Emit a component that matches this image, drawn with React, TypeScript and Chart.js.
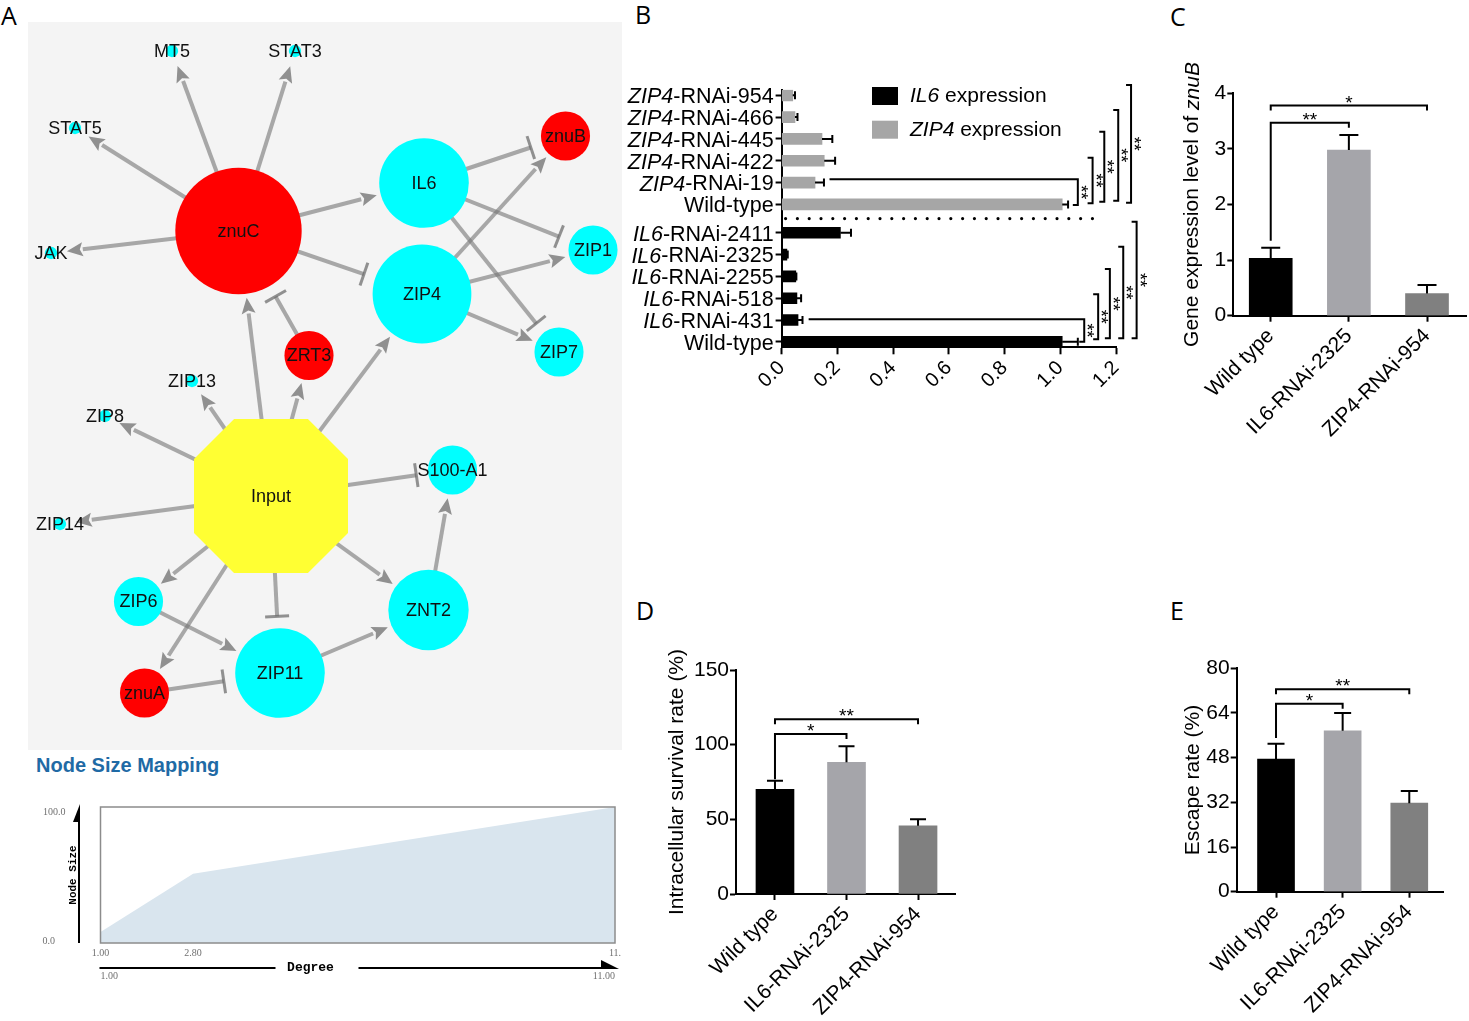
import React, { useEffect, useRef } from 'react';
import { Chart, registerables } from 'chart.js';

Chart.register(...registerables);

const SANS = '"Liberation Sans", Arial, Helvetica, sans-serif';
const MONO = '"Liberation Mono", "DejaVu Sans Mono", monospace';
const SERIF = '"Liberation Serif", "DejaVu Serif", serif';
const LETTER = '"Open Sans", "Noto Sans", sans-serif';

// ================= Panel A: interaction network =================
const nodeNames = ['MT5', 'STAT3', 'STAT5', 'JAK', 'znuC', 'IL6', 'znuB', 'ZIP1', 'ZIP4', 'ZIP7', 'ZRT3', 'ZIP13', 'ZIP8', 'Input', 'S100-A1', 'ZIP14', 'ZIP6', 'ZNT2', 'ZIP11', 'znuA'];
const nodeX = [144, 267, 47, 23, 210.5, 396, 537.5, 565, 394, 531, 281, 164, 77, 243, 424.5, 32, 110.5, 400.5, 252, 116.5];
const nodeY = [29, 29, 106, 231, 209, 161, 114, 228, 272, 330, 333.5, 359, 394, 474, 448, 502, 579.5, 588, 651, 671];
const nodeClass = ['host', 'host', 'host', 'host', 'pathogen', 'host', 'pathogen', 'host', 'host', 'host', 'pathogen', 'host', 'host', 'input', 'host', 'host', 'host', 'host', 'host', 'pathogen'];
const edgeSource = ['znuC', 'znuC', 'znuC', 'znuC', 'znuC', 'znuC', 'IL6', 'IL6', 'IL6', 'ZIP4', 'ZIP4', 'ZIP4', 'ZRT3', 'Input', 'Input', 'Input', 'Input', 'Input', 'Input', 'Input', 'Input', 'Input', 'Input', 'Input', 'ZIP6', 'ZIP11', 'ZNT2', 'znuA'];
const edgeTarget = ['MT5', 'STAT3', 'STAT5', 'JAK', 'IL6', 'ZIP4', 'znuB', 'ZIP1', 'ZIP7', 'znuB', 'ZIP1', 'ZIP7', 'znuC', 'znuC', 'ZRT3', 'ZIP4', 'ZIP13', 'ZIP8', 'ZIP14', 'S100-A1', 'ZIP6', 'znuA', 'ZIP11', 'ZNT2', 'ZIP11', 'ZNT2', 'S100-A1', 'ZIP11'];
const edgeKind = ['act', 'act', 'act', 'act', 'act', 'inh', 'inh', 'inh', 'inh', 'act', 'act', 'act', 'inh', 'act', 'act', 'act', 'act', 'act', 'act', 'inh', 'act', 'act', 'inh', 'act', 'act', 'act', 'act', 'inh'];

// Node size mapping (degree -> node size)
const sizeMapDegree = [1, 2.8, 11];
const sizeMapSize = [8, 51, 100];
const sizeTickLabels = ['1.00', '2.80', '11.'];
const sizeRangeLabels = ['1.00', '11.00'];
const sizeAxisLabels = ['100.0', '0.0'];

// ================= Panel B =================
const bCategories = ['ZIP4-RNAi-954', 'ZIP4-RNAi-466', 'ZIP4-RNAi-445', 'ZIP4-RNAi-422', 'ZIP4-RNAi-19', 'Wild-type', 'IL6-RNAi-2411', 'IL6-RNAi-2325', 'IL6-RNAi-2255', 'IL6-RNAi-518', 'IL6-RNAi-431', 'Wild-type'];
const bZip4Values = [0.040, 0.048, 0.145, 0.153, 0.120, 1.007];
const bZip4Errors = [0.008, 0.009, 0.037, 0.039, 0.032, 0.021];
const bIl6Values = [0.211, 0.019, 0.051, 0.055, 0.059, 1.007];
const bIl6Errors = [0.038, 0.003, 0.002, 0.015, 0.016, 0.056];
const bTicks = [0, 0.2, 0.4, 0.6, 0.8, 1.0, 1.2];
const bSeriesNames = ['IL6 expression', 'ZIP4 expression'];
const bBracketX = [1.063, 1.116, 1.158, 1.208, 1.254, 1.086, 1.136, 1.178, 1.226, 1.274];
const bBracketTop = [3.85, 2.86, 1.67, 0.67, -0.47, 10.27, 9.12, 7.96, 6.94, 5.79];
const bBracketBottom = [5.03, 4.95, 4.88, 4.83, 4.92, 11.29, 11.18, 11.14, 11.14, 11.14];
const bBracketFrom = [0.172, null, null, null, null, 0.097, null, null, null, null];
const bBracketStars = ['**', '**', '**', '**', '**', '**', '**', '**', '**', '**'];

// ================= Panels C, D, E =================
const groupLabels = ['Wild type', 'IL6-RNAi-2325', 'ZIP4-RNAi-954'];

const cValues = [1.03, 2.98, 0.40];
const cErrors = [0.19, 0.27, 0.15];
const cBracketFrom = [0, 0];
const cBracketTo = [1, 2];
const cBracketY = [3.47, 3.78];
const cBracketLeg = [1.35, null];
const cBracketStars = ['**', '*'];

const dValues = [70.1, 88.2, 45.7];
const dErrors = [5.8, 10.7, 4.3];
const dBracketFrom = [0, 0];
const dBracketTo = [1, 2];
const dBracketY = [107.2, 117.1];
const dBracketLeg = [76.8, null];
const dBracketStars = ['*', '**'];

const eValues = [47.5, 57.6, 31.7];
const eErrors = [5.5, 6.4, 4.4];
const eBracketFrom = [0, 0];
const eBracketTo = [1, 2];
const eBracketY = [67.3, 72.5];
const eBracketLeg = [55, null];
const eBracketStars = ['*', '**'];

// ================= helpers =================
const GROUP_COLORS = ['#000000', '#a5a5aa', '#808080'];
const SIZE_TO_PX = 1.54;
const GROUP_GAP = 0.3;
const DIVIDER_END = 1.153;

function richText(ctx: any, parts: [string, boolean][], size: number, x: number, y: number, align: string) {
  const fonts = parts.map(([, it]) => `${it ? 'italic ' : ''}${size}px ${SANS}`);
  const widths = parts.map(([t], k) => {
    ctx.font = fonts[k];
    return ctx.measureText(t).width;
  });
  const total = widths.reduce((a, b) => a + b, 0);
  let cx = align === 'left' ? x : align === 'right' ? x - total : x - total / 2;
  ctx.textAlign = 'left';
  parts.forEach(([t], k) => {
    ctx.font = fonts[k];
    ctx.fillText(t, cx, y);
    cx += widths[k];
  });
}

function geneParts(label: string): [string, boolean][] {
  const m = label.match(/^(ZIP4|IL6)(.*)$/);
  return m ? [[m[1], true], [m[2], false]] : [[label, false]];
}

function interpSize(deg: number) {
  for (let i = 0; i < sizeMapDegree.length - 1; i++) {
    const a = sizeMapDegree[i], b = sizeMapDegree[i + 1];
    if (deg <= b) return sizeMapSize[i] + ((deg - a) / (b - a)) * (sizeMapSize[i + 1] - sizeMapSize[i]);
  }
  return sizeMapSize[sizeMapSize.length - 1];
}

const nodeDegree = nodeNames.map((n) => edgeSource.filter((s) => s === n).length + edgeTarget.filter((t) => t === n).length);
const nodeRadius = nodeDegree.map((d) => (interpSize(d) * SIZE_TO_PX) / 2);

const NODE_COLORS: any = { host: '#00ffff', pathogen: '#ff0000', input: '#ffff33' };
const EDGE_LINE = 'rgba(120,120,120,0.62)';
const EDGE_HEAD = 'rgba(105,105,105,0.72)';

function makeOctagon(r: number) {
  const c = document.createElement('canvas');
  const s = Math.ceil(2 * r + 2);
  c.width = s;
  c.height = s;
  const g = c.getContext('2d')!;
  const a = r * 0.48;
  const o = s / 2;
  const pts = [[a, -r], [r, -a], [r, a], [a, r], [-a, r], [-r, a], [-r, -a], [-a, -r]];
  g.fillStyle = NODE_COLORS.input;
  g.beginPath();
  pts.forEach(([px, py], i) => (i ? g.lineTo(o + px, o + py) : g.moveTo(o + px, o + py)));
  g.closePath();
  g.fill();
  return c;
}

const netPlugin = {
  id: 'netExtras',
  beforeDatasetsDraw(chart: any) {
    const { ctx, scales: { x: xs, y: ys } } = chart;
    ctx.save();
    edgeSource.forEach((s, k) => {
      const a = nodeNames.indexOf(s);
      const b = nodeNames.indexOf(edgeTarget[k]);
      const x1 = xs.getPixelForValue(nodeX[a]), y1 = ys.getPixelForValue(nodeY[a]);
      const x2 = xs.getPixelForValue(nodeX[b]), y2 = ys.getPixelForValue(nodeY[b]);
      const r2 = nodeRadius[b];
      const dx = x2 - x1, dy = y2 - y1, L = Math.hypot(dx, dy);
      const ux = dx / L, uy = dy / L;
      ctx.lineCap = 'butt';
      if (edgeKind[k] === 'act') {
        const tipD = Math.max(r2 + 4, 16);
        const tx = x2 - ux * tipD, ty = y2 - uy * tipD;
        const hl = 16, hw = 7;
        const bx = tx - ux * hl, by = ty - uy * hl;
        ctx.strokeStyle = EDGE_LINE;
        ctx.lineWidth = 4;
        ctx.beginPath();
        ctx.moveTo(x1, y1);
        ctx.lineTo(bx, by);
        ctx.stroke();
        ctx.fillStyle = EDGE_HEAD;
        ctx.beginPath();
        ctx.moveTo(tx, ty);
        ctx.lineTo(bx - uy * hw, by + ux * hw);
        ctx.lineTo(bx + ux * 3, by + uy * 3);
        ctx.lineTo(bx + uy * hw, by - ux * hw);
        ctx.closePath();
        ctx.fill();
      } else {
        const endD = r2 + 12;
        const ex = x2 - ux * endD, ey = y2 - uy * endD;
        ctx.strokeStyle = EDGE_LINE;
        ctx.lineWidth = 4;
        ctx.beginPath();
        ctx.moveTo(x1, y1);
        ctx.lineTo(ex, ey);
        ctx.stroke();
        ctx.strokeStyle = EDGE_HEAD;
        ctx.lineWidth = 3;
        ctx.beginPath();
        ctx.moveTo(ex - uy * 12, ey + ux * 12);
        ctx.lineTo(ex + uy * 12, ey - ux * 12);
        ctx.stroke();
      }
    });
    ctx.restore();
  },
  afterDatasetsDraw(chart: any) {
    const { ctx, scales: { x: xs, y: ys } } = chart;
    ctx.save();
    ctx.fillStyle = '#111';
    ctx.font = `18px ${SANS}`;
    ctx.textAlign = 'center';
    ctx.textBaseline = 'middle';
    nodeNames.forEach((n, i) => {
      ctx.fillText(n, xs.getPixelForValue(nodeX[i]), ys.getPixelForValue(nodeY[i]) + 1);
    });
    ctx.restore();
  },
};

const sizePlugin = {
  id: 'sizeExtras',
  afterDraw(chart: any) {
    const { ctx, chartArea: ca, scales: { x: xs } } = chart;
    ctx.save();
    ctx.strokeStyle = '#8c8c8c';
    ctx.lineWidth = 1.5;
    ctx.strokeRect(ca.left, ca.top, ca.right - ca.left, ca.bottom - ca.top);
    ctx.fillStyle = '#707070';
    ctx.font = `10px ${SERIF}`;
    ctx.textBaseline = 'alphabetic';
    ctx.textAlign = 'left';
    ctx.fillText(sizeAxisLabels[0], ca.left - 57.5, ca.top + 8);
    ctx.fillText(sizeAxisLabels[1], ca.left - 58, ca.bottom + 1);
    // vertical axis arrow
    const ax = ca.left - 21.5;
    ctx.strokeStyle = '#000';
    ctx.fillStyle = '#000';
    ctx.lineWidth = 2;
    ctx.beginPath();
    ctx.moveTo(ax, ca.top + 10);
    ctx.lineTo(ax, ca.bottom);
    ctx.stroke();
    ctx.beginPath();
    ctx.moveTo(ax + 1, ca.top - 3);
    ctx.lineTo(ax + 1, ca.top + 15);
    ctx.lineTo(ax - 6, ca.top + 15);
    ctx.closePath();
    ctx.fill();
    ctx.save();
    ctx.translate(ca.left - 27.5, (ca.top + ca.bottom) / 2);
    ctx.rotate(-Math.PI / 2);
    ctx.font = `bold 11px ${MONO}`;
    ctx.textAlign = 'center';
    ctx.textBaseline = 'middle';
    ctx.fillText('Node Size', 0, 0);
    ctx.restore();
    // degree ticks
    ctx.fillStyle = '#707070';
    ctx.font = `10px ${SERIF}`;
    ctx.textAlign = 'center';
    ctx.textBaseline = 'alphabetic';
    sizeTickLabels.forEach((t, i) => ctx.fillText(t, xs.getPixelForValue(sizeMapDegree[i]), ca.bottom + 13));
    // degree axis
    const ly = ca.bottom + 25;
    ctx.strokeStyle = '#000';
    ctx.fillStyle = '#000';
    ctx.lineWidth = 2;
    ctx.beginPath();
    ctx.moveTo(ca.left - 1, ly);
    ctx.lineTo(ca.left + 175, ly);
    ctx.moveTo(ca.left + 258, ly);
    ctx.lineTo(ca.right - 12, ly);
    ctx.stroke();
    ctx.beginPath();
    ctx.moveTo(ca.right - 14, ly - 8);
    ctx.lineTo(ca.right + 4, ly + 1);
    ctx.lineTo(ca.right - 14, ly + 1);
    ctx.closePath();
    ctx.fill();
    ctx.font = `bold 13px ${MONO}`;
    ctx.textAlign = 'center';
    ctx.textBaseline = 'middle';
    ctx.fillText('Degree', ca.left + 210, ly);
    ctx.fillStyle = '#707070';
    ctx.font = `10px ${SERIF}`;
    ctx.textBaseline = 'alphabetic';
    ctx.textAlign = 'left';
    ctx.fillText(sizeRangeLabels[0], ca.left, ca.bottom + 36);
    ctx.textAlign = 'right';
    ctx.fillText(sizeRangeLabels[1], ca.right, ca.bottom + 36);
    ctx.restore();
  },
};

const bRowPos = bCategories.map((_, i) => i + (i >= 6 ? GROUP_GAP : 0));

const bPlugin = {
  id: 'bExtras',
  afterDatasetsDraw(chart: any) {
    const { ctx, chartArea: ca, scales: { x: xs, y: ys } } = chart;
    ctx.save();
    ctx.fillStyle = '#000';
    ctx.strokeStyle = '#000';
    ctx.textBaseline = 'middle';
    bCategories.forEach((lab, i) => richText(ctx, geneParts(lab), 21.5, ca.left - 8, ys.getPixelForValue(bRowPos[i]) + 2, 'right'));
    // error bars
    ctx.lineWidth = 2;
    const errBar = (v: number, e: number, pos: number) => {
      const py = ys.getPixelForValue(pos);
      const x1 = xs.getPixelForValue(v), x2 = xs.getPixelForValue(v + e);
      ctx.beginPath();
      ctx.moveTo(x1, py);
      ctx.lineTo(x2, py);
      ctx.moveTo(x2, py - 4);
      ctx.lineTo(x2, py + 4);
      ctx.stroke();
    };
    bZip4Values.forEach((v, i) => errBar(v, bZip4Errors[i], bRowPos[i]));
    bIl6Values.forEach((v, i) => errBar(v, bIl6Errors[i], bRowPos[i + 6]));
    // dotted divider
    ctx.save();
    ctx.setLineDash([0.001, 11.8]);
    ctx.lineCap = 'round';
    ctx.lineWidth = 3.2;
    const dyp = ys.getPixelForValue((bRowPos[5] + bRowPos[6]) / 2);
    ctx.beginPath();
    ctx.moveTo(xs.getPixelForValue(0) + 4, dyp);
    ctx.lineTo(xs.getPixelForValue(DIVIDER_END), dyp);
    ctx.stroke();
    ctx.restore();
    // brackets
    ctx.lineWidth = 2;
    bBracketX.forEach((bx, k) => {
      const px = xs.getPixelForValue(bx);
      const top = ys.getPixelForValue(bBracketTop[k]);
      const bot = ys.getPixelForValue(bBracketBottom[k]);
      const from = bBracketFrom[k];
      const lx = from == null ? px - 5 : xs.getPixelForValue(from);
      ctx.beginPath();
      ctx.moveTo(lx, top);
      ctx.lineTo(px, top);
      ctx.lineTo(px, bot);
      ctx.lineTo(px - 5, bot);
      ctx.stroke();
      ctx.save();
      ctx.translate(px + 2, (top + bot) / 2);
      ctx.rotate(Math.PI / 2);
      ctx.font = `18px ${SANS}`;
      ctx.textAlign = 'center';
      ctx.textBaseline = 'middle';
      ctx.fillText(bBracketStars[k], 0, 0);
      ctx.restore();
    });
    // legend
    const legColors = ['#000000', '#a6a6a6'];
    bSeriesNames.forEach((name, k) => {
      const top = 17 + k * 33.7;
      ctx.fillStyle = legColors[k];
      ctx.fillRect(272, top, 26, 18);
      ctx.fillStyle = '#000';
      ctx.textBaseline = 'middle';
      const sp = name.indexOf(' ');
      richText(ctx, [[name.slice(0, sp), true], [name.slice(sp), false]], 21, 310, top + 9.5, 'left');
    });
    ctx.restore();
  },
};

function panelPlugin(cfg: any) {
  return {
    id: 'panelExtras',
    afterDatasetsDraw(chart: any) {
      const { ctx, chartArea: ca, scales: { x: xs, y: ys } } = chart;
      ctx.save();
      ctx.strokeStyle = '#000';
      ctx.fillStyle = '#000';
      ctx.lineWidth = 2;
      cfg.values.forEach((v: number, i: number) => {
        const px = xs.getPixelForValue(i);
        const y0 = ys.getPixelForValue(v), y1 = ys.getPixelForValue(v + cfg.errors[i]);
        ctx.beginPath();
        ctx.moveTo(px, y0);
        ctx.lineTo(px, y1);
        ctx.moveTo(px - cfg.capW / 2, y1);
        ctx.lineTo(px + cfg.capW / 2, y1);
        ctx.stroke();
      });
      cfg.bFrom.forEach((f: number, k: number) => {
        const xa = xs.getPixelForValue(f), xb = xs.getPixelForValue(cfg.bTo[k]);
        const yy = ys.getPixelForValue(cfg.bY[k]);
        const leg = cfg.bLeg[k];
        const ya = leg == null ? yy + 5 : ys.getPixelForValue(leg);
        ctx.beginPath();
        ctx.moveTo(xa, ya);
        ctx.lineTo(xa, yy);
        ctx.lineTo(xb, yy);
        ctx.lineTo(xb, yy + 5);
        ctx.stroke();
        ctx.font = `19px ${SANS}`;
        ctx.textAlign = 'center';
        ctx.textBaseline = 'alphabetic';
        ctx.fillText(cfg.bStars[k], (xa + xb) / 2, yy + 3);
      });
      ctx.save();
      ctx.translate(ca.left + cfg.titleDx, (ca.top + ca.bottom) / 2);
      ctx.rotate(-Math.PI / 2);
      ctx.textBaseline = 'middle';
      richText(ctx, cfg.title, 21, 0, 0, 'center');
      ctx.restore();
      ctx.restore();
    },
  };
}

function makeBarPanel(el: HTMLCanvasElement, cfg: any) {
  const axisGrid = { display: true, drawOnChartArea: false, drawTicks: true, tickLength: 6, tickColor: '#000', tickWidth: 2, offset: false };
  const border = { display: true, color: '#000', width: 2 };
  return new Chart(el, {
    type: 'bar',
    data: {
      datasets: [
        {
          data: cfg.values.map((v: number, i: number) => ({ x: i, y: v })),
          backgroundColor: GROUP_COLORS,
          barThickness: cfg.barW,
          borderWidth: 0,
        },
      ],
    },
    options: {
      animation: false,
      responsive: false,
      events: [],
      layout: { autoPadding: false, padding: { top: cfg.padTop, right: cfg.padRight, left: 0, bottom: 0 } },
      plugins: { legend: { display: false }, tooltip: { enabled: false } },
      scales: {
        x: {
          type: 'linear',
          offset: false,
          min: cfg.xMin,
          max: cfg.xMax,
          afterBuildTicks: (s: any) => {
            s.ticks = groupLabels.map((_, i) => ({ value: i }));
          },
          ticks: {
            callback: (v: any) => groupLabels[Math.round(v)],
            font: { family: SANS, size: 21 },
            color: '#000',
            minRotation: 45,
            maxRotation: 45,
            padding: 2,
            autoSkip: false,
          },
          grid: axisGrid,
          border,
          afterFit: (s: any) => {
            s.height = cfg.xH;
          },
        },
        y: {
          type: 'linear',
          min: 0,
          max: cfg.yMax,
          ticks: { stepSize: cfg.step, font: { family: SANS, size: 21 }, color: '#000', padding: 1 },
          grid: axisGrid,
          border,
          afterFit: (s: any) => {
            s.width = cfg.yW;
          },
        },
      },
    } as any,
    plugins: [panelPlugin(cfg)],
  } as any);
}

function makeNetwork(el: HTMLCanvasElement) {
  const inputIdx = nodeClass.indexOf('input');
  const octagon = makeOctagon(nodeRadius[inputIdx]);
  return new Chart(el, {
    type: 'scatter',
    data: {
      datasets: [
        {
          data: nodeNames.map((_, i) => ({ x: nodeX[i], y: nodeY[i] })),
          pointRadius: (c: any) => nodeRadius[c.dataIndex],
          pointStyle: (c: any) => (nodeClass[c.dataIndex] === 'input' ? octagon : 'circle'),
          pointBackgroundColor: (c: any) => NODE_COLORS[nodeClass[c.dataIndex]],
          pointBorderWidth: 0,
          clip: false,
        },
      ],
    },
    options: {
      animation: false,
      responsive: false,
      events: [],
      layout: { autoPadding: false, padding: 0 },
      plugins: { legend: { display: false }, tooltip: { enabled: false } },
      scales: {
        x: { type: 'linear', min: 0, max: 594, display: false },
        y: { type: 'linear', min: 0, max: 728, reverse: true, display: false },
      },
    } as any,
    plugins: [netPlugin],
  } as any);
}

function makeSizeMap(el: HTMLCanvasElement) {
  return new Chart(el, {
    type: 'line',
    data: {
      datasets: [
        {
          data: sizeMapDegree.map((d, i) => ({ x: d, y: sizeMapSize[i] })),
          fill: 'origin',
          backgroundColor: '#d9e5ee',
          borderColor: '#d9e5ee',
          borderWidth: 0,
          pointRadius: 0,
          tension: 0,
        },
      ],
    },
    options: {
      animation: false,
      responsive: false,
      events: [],
      layout: { autoPadding: false, padding: { left: 72.5, right: 13, top: 17, bottom: 47 } },
      plugins: { legend: { display: false }, tooltip: { enabled: false } },
      scales: {
        x: { type: 'linear', min: 1, max: 11, display: false },
        y: { type: 'linear', min: 0, max: 100, display: false },
      },
    } as any,
    plugins: [sizePlugin],
  } as any);
}

function makeB(el: HTMLCanvasElement) {
  const grid = { display: true, drawOnChartArea: false, drawTicks: true, tickColor: '#000', tickWidth: 2, offset: false };
  const border = { display: true, color: '#000', width: 2 };
  return new Chart(el, {
    type: 'bar',
    data: {
      datasets: [
        {
          label: bSeriesNames[0],
          data: bIl6Values.map((v, i) => ({ x: v, y: bRowPos[i + 6] })),
          backgroundColor: '#000000',
          barThickness: 11,
          grouped: false,
          borderWidth: 0,
        },
        {
          label: bSeriesNames[1],
          data: bZip4Values.map((v, i) => ({ x: v, y: bRowPos[i] })),
          backgroundColor: '#a6a6a6',
          barThickness: 11,
          grouped: false,
          borderWidth: 0,
        },
      ],
    },
    options: {
      indexAxis: 'y',
      animation: false,
      responsive: false,
      events: [],
      layout: { autoPadding: false, padding: { top: 19.85, right: 44, left: 0, bottom: 0 } },
      plugins: { legend: { display: false }, tooltip: { enabled: false } },
      scales: {
        x: {
          type: 'linear',
          offset: false,
          min: 0,
          max: 1.2,
          afterBuildTicks: (s: any) => {
            s.ticks = bTicks.map((v) => ({ value: v }));
          },
          ticks: {
            callback: (v: any) => Number(v).toFixed(1),
            font: { family: SANS, size: 20 },
            color: '#000',
            minRotation: 45,
            maxRotation: 45,
            padding: 2,
            autoSkip: false,
          },
          grid: { ...grid, tickLength: 7 },
          border,
          afterFit: (s: any) => {
            s.height = 67.7;
          },
        },
        y: {
          type: 'linear',
          offset: false,
          reverse: true,
          min: -0.25,
          max: 11.55,
          afterBuildTicks: (s: any) => {
            s.ticks = bRowPos.map((v) => ({ value: v }));
          },
          ticks: { display: false },
          grid: { ...grid, tickLength: 6 },
          border,
          afterFit: (s: any) => {
            s.width = 181.6;
          },
        },
      },
    } as any,
    plugins: [bPlugin],
  } as any);
}

const abs = (left: number, top: number, w: number, h: number): any => ({ position: 'absolute', left, top, width: w, height: h });
const letter = (left: number, top: number): any => ({ position: 'absolute', left, top, font: `25px ${LETTER}`, lineHeight: 1, color: '#000' });

export default function App() {
  const netRef = useRef<HTMLCanvasElement>(null);
  const sizeRef = useRef<HTMLCanvasElement>(null);
  const bRef = useRef<HTMLCanvasElement>(null);
  const cRef = useRef<HTMLCanvasElement>(null);
  const dRef = useRef<HTMLCanvasElement>(null);
  const eRef = useRef<HTMLCanvasElement>(null);

  useEffect(() => {
    const charts: Chart[] = [];
    charts.push(makeNetwork(netRef.current!));
    charts.push(makeSizeMap(sizeRef.current!));
    charts.push(makeB(bRef.current!));
    charts.push(
      makeBarPanel(cRef.current!, {
        values: cValues, errors: cErrors, yMax: 4, step: 1, xMin: -0.479, xMax: 2.508, barW: 43, capW: 19,
        bFrom: cBracketFrom, bTo: cBracketTo, bY: cBracketY, bLeg: cBracketLeg, bStars: cBracketStars,
        title: [['Gene expression level of ', false], ['znuB', true]], titleDx: -40.6,
        padTop: 33.3, padRight: 2.3, yW: 83.3, xH: 144.3,
      })
    );
    charts.push(
      makeBarPanel(dRef.current!, {
        values: dValues, errors: dErrors, yMax: 150, step: 50, xMin: -0.545, xMax: 2.517, barW: 38, capW: 16,
        bFrom: dBracketFrom, bTo: dBracketTo, bY: dBracketY, bLeg: dBracketLeg, bStars: dBracketStars,
        title: [['Intracellular survival rate (%)', false]], titleDx: -58.5,
        padTop: 40, padRight: 10, yW: 116, xH: 127,
      })
    );
    charts.push(
      makeBarPanel(eRef.current!, {
        values: eValues, errors: eErrors, yMax: 80, step: 16, xMin: -0.59, xMax: 2.506, barW: 37, capW: 17,
        bFrom: eBracketFrom, bTo: eBracketTo, bY: eBracketY, bLeg: eBracketLeg, bStars: eBracketStars,
        title: [['Escape rate (%)', false]], titleDx: -43.4,
        padTop: 38.3, padRight: 26, yW: 86.7, xH: 129.3,
      })
    );
    return () => charts.forEach((c) => c.destroy());
  }, []);

  return (
    <div style={{ position: 'absolute', left: 0, top: 0, width: 1469, height: 1021, background: '#fff', overflow: 'hidden' }}>
      <canvas ref={netRef} width={594} height={728} style={{ ...abs(28, 22, 594, 728), background: '#f4f4f4' }} />
      <canvas ref={sizeRef} width={600} height={200} style={abs(28, 790, 600, 200)} />
      <canvas ref={bRef} width={560} height={345} style={abs(600, 70, 560, 345)} />
      <canvas ref={cRef} width={319} height={400} style={abs(1150, 60, 319, 400)} />
      <canvas ref={dRef} width={345} height={391} style={abs(620, 630, 345, 391)} />
      <canvas ref={eRef} width={319} height={391} style={abs(1150, 630, 319, 391)} />
      <div style={{ position: 'absolute', left: 36, top: 755, font: `bold 20px ${SANS}`, color: '#1f6aa5', lineHeight: 1, whiteSpace: 'nowrap' }}>Node Size Mapping</div>
      <div style={letter(1, 3)}>A</div>
      <div style={letter(635, 2)}>B</div>
      <div style={letter(1170, 4)}>C</div>
      <div style={letter(636, 598)}>D</div>
      <div style={letter(1170, 598)}>E</div>
    </div>
  );
}
